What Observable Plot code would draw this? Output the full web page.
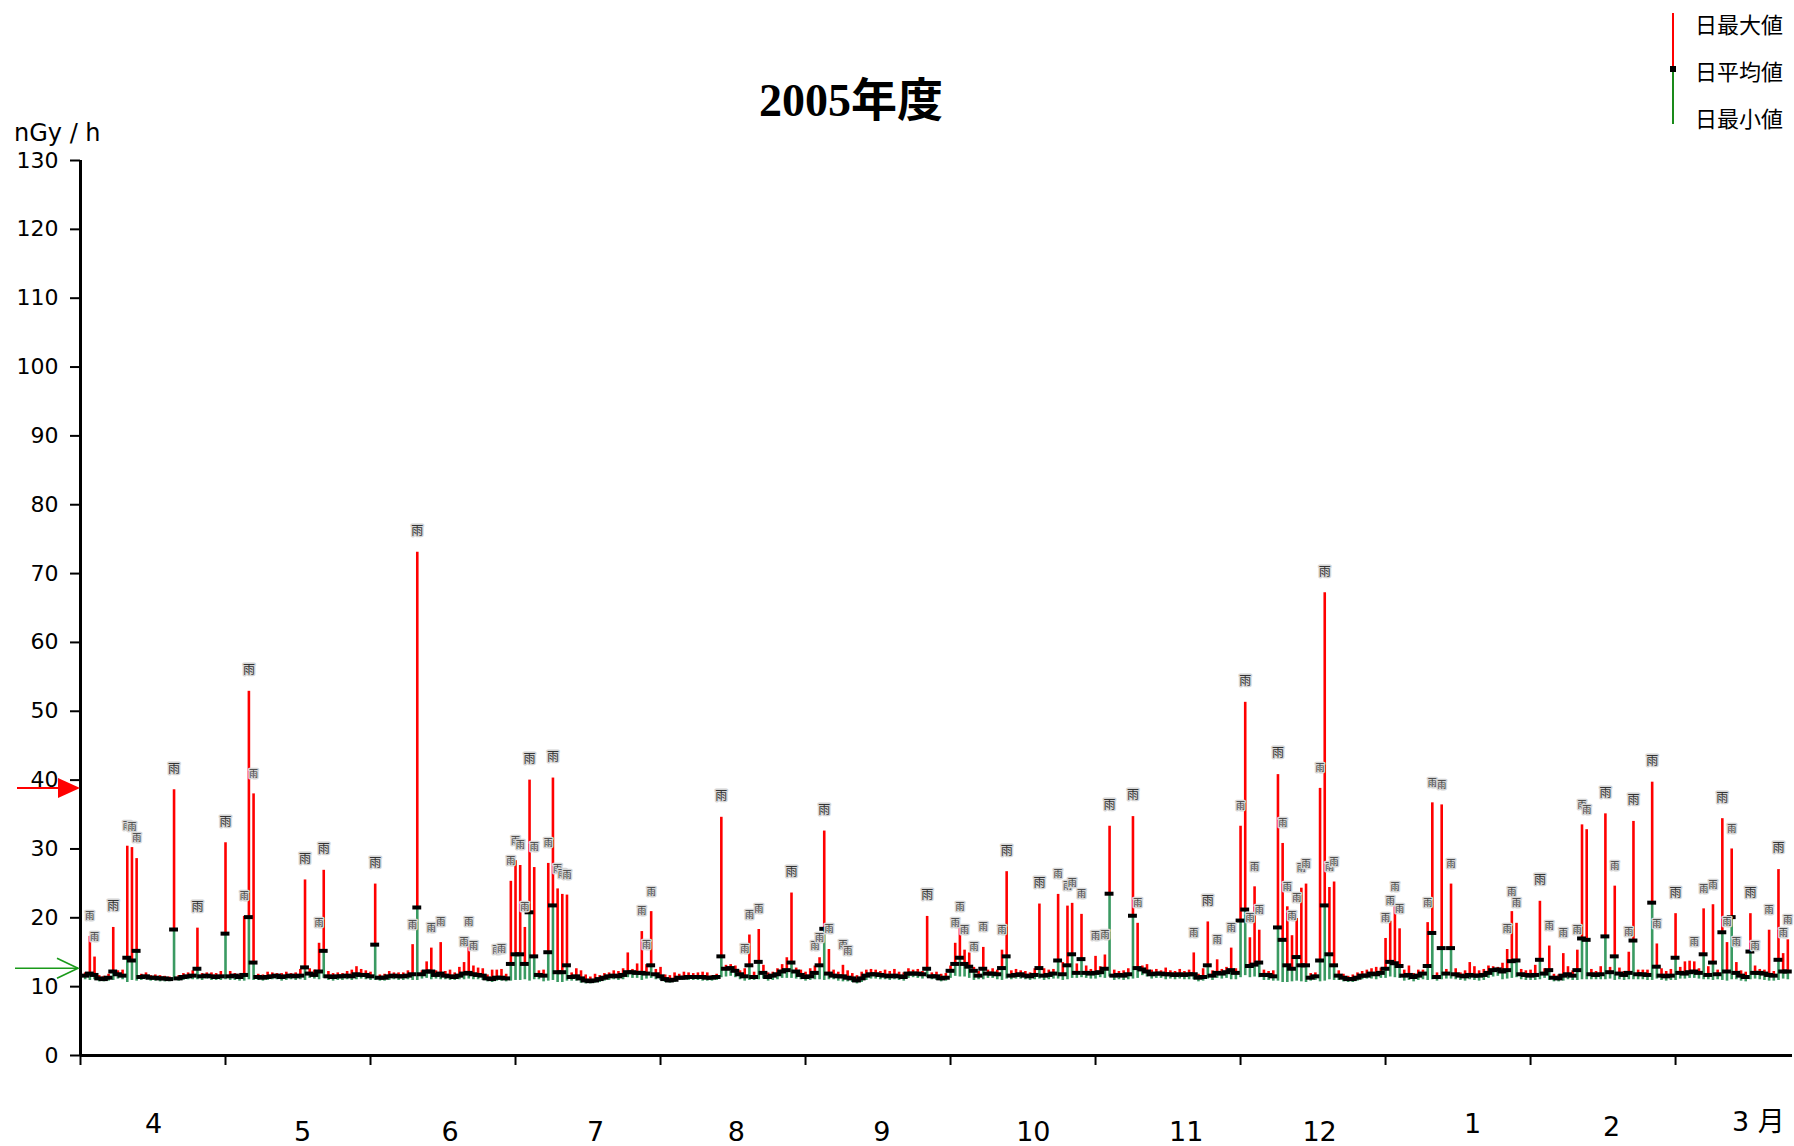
<!DOCTYPE html>
<html><head><meta charset="utf-8">
<script src="https://cdn.jsdelivr.net/npm/d3@7"></script>
<script src="https://cdn.jsdelivr.net/npm/@observablehq/plot@0.6"></script>
<style>
html,body{margin:0;padding:0;background:#fff;}
#wrap{position:relative;width:1794px;height:1146px;overflow:hidden;background:#fff;}
#chart{position:absolute;left:0;top:0;}
.ov{position:absolute;white-space:nowrap;color:#000;}
#title{left:651px;width:400px;top:78px;text-align:center;font:bold 46px/46px 'Liberation Serif','Noto Sans CJK JP',serif;}
#unit{left:14px;top:121px;font:24px/24px 'DejaVu Sans',sans-serif;}
.leg{left:1695px;font:22px/22px 'Noto Sans CJK JP',sans-serif;}
</style></head>
<body><div id="wrap"><div id="chart"></div>
<div id="title" class="ov">2005年度</div>
<div id="unit" class="ov">nGy / h</div>
<svg class="ov" style="left:1660px;top:0" width="30" height="130">
  <line x1="13" x2="13" y1="13" y2="68" stroke="#ff0000" stroke-width="2"/>
  <line x1="13" x2="13" y1="71" y2="124" stroke="#1a8a1a" stroke-width="2"/>
  <rect x="10" y="66" width="6" height="6" fill="#000"/>
</svg>
<div class="ov leg" style="top:12px">日最大値</div>
<div class="ov leg" style="top:59px">日平均値</div>
<div class="ov leg" style="top:106px">日最小値</div>
</div>
<script>
// ---- data: fiscal year 2005, Apr 1 2005 .. Mar 31 2006 (one row per month) ----
const monthNames = ["4","5","6","7","8","9","10","11","12","1","2","3 月"];
const yTicks = [0,10,20,30,40,50,60,70,80,90,100,110,120,130];
const thresholds = [38.8, 12.6]; // red (upper) and green (lower) markers on the y axis

const dayMax = [
 12.0,17.3,14.3,11.6,11.5,11.8,18.6,12.3,12.4,30.4,30.2,28.6,11.8,12.0,11.6,11.7,11.6,11.5,11.4,38.6,11.6,11.9,12.0,12.3,18.5,11.9,12.0,12.0,11.9,12.2,
 30.9,12.2,11.9,11.8,20.2,52.9,38.0,11.8,11.7,12.1,12.0,11.9,11.9,12.1,11.9,12.0,12.5,25.5,12.6,12.4,16.3,26.9,12.2,11.9,12.0,11.9,12.2,12.4,12.9,12.5,12.3,
 12.1,24.9,11.7,11.8,12.2,12.0,12.0,12.0,12.3,16.1,73.1,12.3,13.6,15.6,12.3,16.4,12.2,12.4,12.0,12.8,13.5,16.4,13.0,12.7,12.6,11.7,12.4,12.4,12.5,11.8,
 25.3,28.3,27.6,18.6,40.0,27.3,12.3,12.4,27.9,40.3,24.2,23.4,23.3,12.0,12.6,12.3,11.7,11.4,11.8,11.6,11.9,12.0,12.3,12.2,12.6,14.9,12.5,13.3,18.0,13.2,20.9,
 12.5,12.8,11.7,11.6,12.0,11.8,12.1,12.0,11.9,12.0,12.1,12.0,11.6,11.8,34.6,13.1,13.2,13.0,12.3,12.6,17.5,12.1,18.3,13.1,12.0,12.1,12.6,13.2,14.2,23.6,12.7,
 12.4,12.1,12.6,13.0,14.2,32.6,15.4,12.4,12.1,13.1,12.3,11.9,11.6,12.1,12.4,12.5,12.4,12.2,12.4,12.2,12.5,12.1,12.0,12.6,12.4,12.5,12.2,20.2,12.0,12.1,
 11.8,11.9,13.0,16.3,18.6,15.3,14.9,12.8,12.2,15.7,12.4,12.6,12.4,15.3,26.7,12.3,12.5,12.3,12.2,12.0,12.6,22.0,12.6,12.4,12.5,23.4,13.5,21.7,22.1,13.3,20.5,
 13.0,12.5,14.4,12.9,14.6,33.3,12.4,12.2,12.3,12.6,34.7,19.2,13.0,13.2,12.4,12.5,12.3,12.7,12.3,12.2,12.5,12.2,12.4,14.9,11.8,12.6,19.4,12.3,13.9,12.5,
 12.8,15.6,12.6,33.3,51.3,17.1,24.5,18.2,12.4,12.2,12.3,40.8,30.8,21.6,17.4,19.9,24.3,24.9,11.9,12.0,38.8,67.2,24.4,25.2,12.3,11.8,11.5,11.7,12.0,12.2,12.4,
 12.6,12.8,12.7,17.0,19.5,21.6,18.4,12.4,13.0,11.9,12.4,12.4,19.3,36.7,12.0,36.4,12.5,24.9,12.6,12.0,12.3,13.5,12.9,12.3,12.5,13.0,12.9,12.8,13.4,15.4,20.9,
 19.2,12.5,12.3,12.4,13.1,22.4,12.6,15.9,11.8,11.7,14.8,12.9,12.3,15.3,33.5,32.8,12.5,12.2,12.9,35.1,12.8,24.6,12.7,12.2,15.0,34.0,12.4,12.4,
 12.4,39.7,16.2,12.6,12.2,12.5,20.6,12.8,13.6,13.7,13.6,12.6,21.3,12.9,21.9,12.4,34.4,16.4,30.0,13.5,12.3,12.1,20.6,13.0,12.5,12.4,18.2,12.2,27.0,14.8,16.8
];
const dayAvg = [
 11.6,11.9,11.7,11.2,11.1,11.3,12.2,11.8,11.6,14.2,13.8,15.2,11.4,11.5,11.3,11.3,11.2,11.2,11.1,18.3,11.2,11.4,11.5,11.6,12.6,11.5,11.6,11.5,11.4,11.5,
 17.7,11.5,11.6,11.4,11.7,20.1,13.5,11.4,11.3,11.4,11.5,11.6,11.4,11.5,11.6,11.5,11.6,12.8,11.9,11.7,12.2,15.2,11.5,11.4,11.5,11.5,11.6,11.5,11.8,11.7,11.7,
 11.5,16.1,11.3,11.3,11.5,11.6,11.5,11.5,11.6,11.8,21.5,11.8,12.2,12.2,11.7,11.9,11.6,11.5,11.4,11.6,11.9,12.0,11.8,11.7,11.6,11.2,11.1,11.3,11.3,11.2,
 13.3,14.7,14.7,13.3,20.8,14.4,11.7,11.6,15.0,21.8,12.1,12.1,13.1,11.4,11.5,11.2,10.9,10.8,10.9,11.1,11.3,11.5,11.6,11.5,11.7,12.1,12.1,12.0,12.0,11.9,13.1,
 11.8,11.5,11.1,10.9,11.0,11.3,11.3,11.4,11.4,11.4,11.4,11.3,11.3,11.4,14.4,12.6,12.7,12.3,11.8,11.5,13.1,11.4,13.6,12.0,11.4,11.6,11.8,12.2,12.4,13.5,12.2,
 11.7,11.4,11.5,12.0,13.1,18.4,11.9,11.6,11.5,11.5,11.3,11.2,10.9,11.2,11.6,11.8,11.8,11.7,11.6,11.5,11.6,11.5,11.4,11.9,11.9,11.9,11.8,12.6,11.5,11.5,
 11.2,11.3,12.3,13.3,14.2,13.3,12.9,12.3,11.6,12.6,11.9,11.9,11.8,12.7,14.4,11.6,11.7,11.8,11.6,11.5,11.7,12.7,11.6,11.7,11.9,13.8,11.8,13.1,14.7,12.0,14.0,
 12.0,11.9,12.0,12.1,12.6,23.5,11.6,11.7,11.6,11.8,20.3,12.7,12.5,12.2,11.8,11.9,11.9,11.8,11.8,11.7,11.8,11.7,11.8,11.8,11.3,11.4,13.1,11.6,12.0,11.9,
 12.1,12.4,12.0,19.6,21.2,13.0,13.2,13.5,11.7,11.7,11.5,18.6,16.8,13.1,12.6,14.3,13.1,13.1,11.3,11.5,13.8,21.8,14.7,13.1,11.6,11.3,11.1,11.1,11.3,11.6,11.6,
 11.9,11.8,12.0,12.6,13.6,13.4,13.0,11.6,11.7,11.4,11.6,11.9,13.0,17.8,11.4,15.6,11.9,15.6,11.8,11.6,11.5,11.7,11.6,11.6,11.7,12.0,12.4,12.5,12.2,12.4,13.7,
 13.8,11.8,11.7,11.6,11.7,13.9,11.9,12.4,11.3,11.2,11.6,11.8,11.6,12.4,17.0,16.8,11.8,11.7,11.8,17.3,12.1,14.4,11.9,11.7,12.0,16.7,11.8,11.8,
 11.7,22.2,12.9,11.6,11.5,11.6,14.2,12.0,11.9,12.1,12.2,12.0,14.7,11.7,13.5,11.8,17.9,12.2,20.1,12.0,11.6,11.4,15.1,12.0,12.0,11.9,11.7,11.6,13.9,12.2,12.2
];
const dayMin = [
 11.0,10.9,11.0,10.7,10.7,10.8,10.9,11.1,11.0,10.6,10.9,10.8,10.9,11.0,10.8,10.8,10.7,10.7,10.7,10.9,10.8,10.9,11.0,11.0,11.0,10.9,11.1,10.9,10.9,10.9,
 11.0,10.9,10.9,10.8,10.8,11.0,10.9,10.9,10.8,10.9,11.0,11.0,10.8,10.9,11.0,10.9,11.0,10.9,11.2,11.1,11.0,11.2,10.9,10.8,10.9,10.9,11.0,10.9,11.0,11.1,11.0,
 10.9,10.9,10.8,10.8,10.9,11.0,10.9,10.9,11.0,10.9,10.9,11.1,11.2,11.0,11.1,11.0,11.0,10.9,10.9,11.0,11.0,11.1,11.0,11.0,10.9,10.7,10.6,10.8,10.8,10.7,
 10.8,10.9,10.9,11.0,10.8,11.0,11.0,10.7,10.8,10.9,10.6,10.6,10.8,10.8,10.8,10.5,10.4,10.4,10.5,10.6,10.8,10.9,11.0,10.9,11.0,11.3,11.2,11.2,10.9,11.1,11.2,
 11.0,10.9,10.6,10.5,10.6,10.9,10.9,10.9,10.9,10.9,10.8,10.8,10.8,10.9,11.3,11.4,11.5,11.3,11.0,10.8,10.9,10.9,11.0,11.1,10.8,10.9,11.0,11.2,11.2,11.2,11.1,
 11.0,10.8,10.9,11.0,11.0,10.9,11.0,11.0,10.8,10.7,10.7,10.6,10.4,10.6,10.9,11.1,11.1,11.0,11.0,10.9,11.0,10.9,10.8,11.2,11.3,11.2,11.1,11.3,11.0,10.9,
 10.7,10.8,11.2,11.5,11.4,11.4,11.2,10.9,11.0,11.0,11.2,11.2,11.0,10.9,11.1,11.0,11.1,11.1,11.0,10.9,11.0,11.1,10.9,11.0,11.1,11.1,10.9,11.0,11.2,11.2,11.3,
 11.2,11.1,11.1,11.3,11.2,11.4,10.9,11.0,10.9,11.0,11.1,11.2,11.6,11.4,11.1,11.2,11.2,11.0,11.1,11.0,11.1,11.0,11.0,11.0,10.7,10.8,11.1,10.9,11.2,11.1,
 11.2,11.0,11.0,11.3,11.6,11.3,11.4,11.3,10.9,10.9,10.8,10.8,10.6,10.6,10.7,10.8,10.7,10.6,10.8,10.9,10.7,10.8,11.0,10.9,10.9,10.7,10.6,10.6,10.8,11.0,11.1,
 11.1,11.0,11.2,11.2,11.4,11.3,11.2,10.8,10.9,10.7,10.9,11.0,10.9,11.0,10.8,11.0,11.1,11.1,11.0,10.9,10.8,11.0,10.9,10.8,10.9,11.2,11.4,11.5,11.0,11.1,11.2,
 11.3,11.0,10.9,10.9,10.9,11.0,11.2,10.9,10.7,10.7,10.8,11.0,10.9,10.9,11.0,11.0,11.0,11.0,11.0,11.0,11.1,10.9,11.0,10.9,11.0,11.0,11.0,11.0,
 10.9,10.9,11.1,10.9,10.8,10.9,10.9,11.1,11.1,11.2,11.2,11.1,11.0,11.0,10.9,11.0,10.9,10.8,11.0,11.0,10.8,10.7,11.0,11.1,11.0,10.9,10.8,10.8,10.9,11.1,11.0
];
// rainy days (day index from Apr 1); two label sizes as in the original
const rainSmall = [1,2,9,10,11,34,36,50,70,74,76,81,82,83,88,89,91,92,93,94,96,99,101,102,103,119,120,121,141,142,144,156,157,159,162,163,186,187,188,190,192,196,208,210,211,213,216,218,225,237,242,245,247,249,250,251,256,257,258,259,260,261,264,266,267,278,279,280,281,287,288,290,292,304,305,306,313,316,319,320,321,327,330,336,344,346,348,351,352,353,357,360,363,364];
const rainBig = [6,19,24,30,35,47,51,62,71,95,100,136,151,158,180,197,204,219,224,240,248,255,265,311,325,331,335,340,350,356,362];

// ---- rendering ----
const RED = "#ff0000", GREEN = "#3a9a62";
const days = dayAvg.map((avg, i) => ({pos: i + 1, avg, max: dayMax[i], min: dayMin[i]}));
const rainS = rainSmall.map(i => days[i]);
const rainB = rainBig.map(i => days[i]);
const labelNudge = [0.1,1,1.5,1.6,0.7,0.8,2.2,3.9,1.4,3.1,1.8,2.2];
const labelDy = [77,85,85,85,85,85,85,85,85,77,80,75];
const monthMarks = monthNames.map((name, i) =>
  Plot.text([name], {x: () => i * 31 + 15.5 + labelNudge[i], text: d => d, frameAnchor: "bottom", dy: labelDy[i], fontSize: 27}));

const chart = Plot.plot({
  width: 1794, height: 1146,
  marginLeft: 80, marginRight: 2, marginTop: 160, marginBottom: 91,
  style: {fontFamily: "'DejaVu Sans','Noto Sans CJK JP',sans-serif", background: "transparent", color: "black", overflow: "visible"},
  x: {domain: [0, 366], axis: null},
  y: {domain: [0, 130], axis: null},
  marks: [
    Plot.ruleX(days, {x: "pos", y1: "min", y2: "avg", stroke: GREEN, strokeWidth: 2.6}),
    Plot.ruleX(days, {x: "pos", y1: "avg", y2: "max", stroke: RED, strokeWidth: 2.6}),
    Plot.ruleY(days, {y: "avg", x1: d => d.pos - 0.95, x2: d => d.pos + 0.95, stroke: "black", strokeWidth: 4}),
    Plot.text(rainS, {x: "pos", y: "max", text: () => "雨", dy: -20, fontSize: 9, fill: "#333", stroke: "#d6d6d6", strokeWidth: 3, fontFamily: "'Noto Sans CJK JP'"}),
    Plot.text(rainB, {x: "pos", y: "max", text: () => "雨", dy: -21, fontSize: 12, fill: "#333", stroke: "#d6d6d6", strokeWidth: 3, fontFamily: "'Noto Sans CJK JP'"}),
    Plot.axisY({ticks: yTicks, tickSize: 10, tickPadding: 12, fontSize: 22, strokeWidth: 2, label: null}),
    Plot.axisX({ticks: d3.range(0, 342, 31), tickSize: 10, tickFormat: () => "", strokeWidth: 2, label: null}),
    Plot.ruleX([0], {strokeWidth: 3}),
    Plot.ruleY([0], {strokeWidth: 3}),
    ...monthMarks
  ]
});
document.getElementById("chart").appendChild(chart);

// threshold arrows at the left of the y axis, positioned with the plot's y scale
const ys = chart.scale("y");
const svg = d3.select(chart);
{
  const y = ys.apply(thresholds[0]);
  svg.append("line").attr("x1", 17).attr("x2", 60).attr("y1", y).attr("y2", y).attr("stroke", RED).attr("stroke-width", 2);
  svg.append("path").attr("d", `M58,${y - 10}L80,${y}L58,${y + 10}Z`).attr("fill", RED);
}
{
  const y = ys.apply(thresholds[1]);
  svg.append("line").attr("x1", 15).attr("x2", 78).attr("y1", y).attr("y2", y).attr("stroke", "#1a9a1a").attr("stroke-width", 1.6);
  svg.append("path").attr("d", `M57,${y - 10}L78,${y}L57,${y + 10}`).attr("fill", "none").attr("stroke", "#1a9a1a").attr("stroke-width", 1.6);
}
</script>
</body></html>
